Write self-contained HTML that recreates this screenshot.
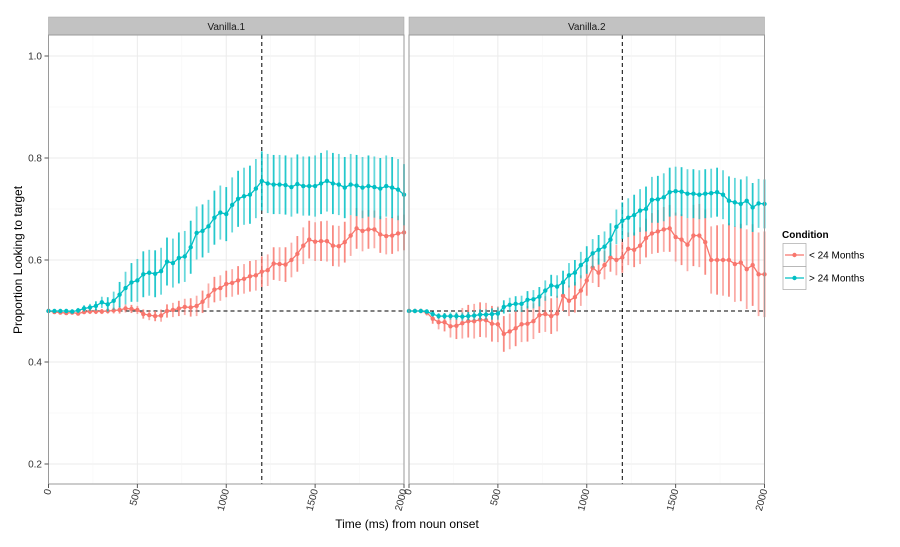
<!DOCTYPE html>
<html><head><meta charset="utf-8"><style>
body{margin:0;background:#fff;}
svg text{font-family:"Liberation Sans",sans-serif;}
</style></head><body>
<svg id="c" width="900" height="542" xmlns="http://www.w3.org/2000/svg"></svg>
<script>
const times=[];for(let i=0;i<=60;i++)times.push(i*100/3);
const yTicks=[0.2,0.4,0.6,0.8,1.0];
const xTicks=[0,500,1000,1500,2000];
const panels=["Vanilla.1","Vanilla.2"];
const teal1=[0.500,0.500,0.500,0.500,0.499,0.501,0.505,0.507,0.510,0.517,
0.513,0.520,0.532,0.545,0.556,0.560,0.572,0.575,0.573,0.578,
0.597,0.594,0.604,0.607,0.625,0.653,0.657,0.666,0.683,0.693,
0.690,0.708,0.720,0.725,0.728,0.740,0.755,0.750,0.748,0.748,
0.747,0.743,0.749,0.745,0.745,0.745,0.750,0.755,0.750,0.748,
0.742,0.748,0.746,0.742,0.745,0.743,0.740,0.745,0.742,0.738,0.728];
const red1=[0.500,0.498,0.497,0.496,0.497,0.495,0.498,0.499,0.499,0.499,
0.500,0.501,0.502,0.505,0.504,0.502,0.494,0.492,0.490,0.491,
0.500,0.502,0.505,0.508,0.507,0.510,0.518,0.530,0.542,0.545,
0.553,0.555,0.560,0.563,0.568,0.570,0.577,0.580,0.593,0.592,
0.591,0.600,0.612,0.628,0.640,0.636,0.637,0.637,0.628,0.627,
0.635,0.648,0.662,0.657,0.660,0.660,0.650,0.647,0.648,0.652,0.654];
const teal2=[0.500,0.500,0.500,0.499,0.494,0.490,0.490,0.490,0.490,0.489,
0.490,0.491,0.493,0.493,0.494,0.495,0.508,0.512,0.514,0.514,
0.522,0.523,0.528,0.540,0.550,0.548,0.556,0.570,0.575,0.590,
0.600,0.613,0.620,0.626,0.640,0.665,0.677,0.683,0.688,0.697,
0.700,0.718,0.719,0.723,0.733,0.735,0.734,0.730,0.730,0.728,
0.730,0.731,0.733,0.728,0.716,0.713,0.710,0.716,0.703,0.711,0.710];
const red2=[0.500,0.500,0.500,0.497,0.485,0.478,0.478,0.470,0.471,0.476,
0.480,0.480,0.483,0.482,0.475,0.474,0.455,0.460,0.466,0.474,
0.475,0.480,0.492,0.494,0.490,0.495,0.530,0.520,0.527,0.540,
0.560,0.585,0.575,0.590,0.605,0.600,0.605,0.622,0.620,0.628,
0.643,0.652,0.656,0.660,0.662,0.645,0.640,0.630,0.648,0.648,
0.635,0.600,0.600,0.600,0.600,0.592,0.595,0.582,0.590,0.572,0.572];
const seT1=[0.003,0.003,0.003,0.004,0.004,0.005,0.006,0.007,0.009,0.011,
0.014,0.018,0.025,0.032,0.038,0.042,0.045,0.045,0.046,0.046,
0.047,0.048,0.050,0.050,0.052,0.052,0.052,0.052,0.053,0.053,
0.053,0.054,0.055,0.056,0.057,0.058,0.058,0.058,0.058,0.058,
0.058,0.058,0.058,0.058,0.058,0.060,0.060,0.060,0.060,0.060,
0.060,0.060,0.060,0.060,0.060,0.060,0.060,0.060,0.060,0.060,0.060];
const seR1=[0.003,0.003,0.003,0.003,0.004,0.004,0.004,0.005,0.005,0.005,
0.005,0.006,0.007,0.008,0.008,0.008,0.009,0.010,0.010,0.012,
0.013,0.014,0.015,0.016,0.018,0.020,0.022,0.024,0.025,0.025,
0.026,0.027,0.028,0.029,0.030,0.030,0.030,0.031,0.032,0.033,
0.034,0.034,0.035,0.036,0.037,0.038,0.039,0.040,0.040,0.040,
0.040,0.040,0.040,0.040,0.038,0.037,0.036,0.036,0.036,0.035,0.035];
const seT2=[0.003,0.003,0.003,0.004,0.005,0.006,0.006,0.007,0.007,0.008,
0.008,0.009,0.010,0.010,0.011,0.012,0.013,0.014,0.015,0.016,
0.017,0.018,0.019,0.020,0.021,0.022,0.023,0.024,0.025,0.026,
0.027,0.028,0.029,0.030,0.032,0.034,0.036,0.038,0.040,0.042,
0.044,0.045,0.046,0.047,0.048,0.048,0.048,0.048,0.048,0.048,
0.048,0.048,0.048,0.048,0.048,0.048,0.048,0.048,0.048,0.048,0.048];
const seR2=[0.003,0.003,0.004,0.006,0.010,0.014,0.018,0.022,0.026,0.030,
0.032,0.034,0.034,0.034,0.035,0.035,0.035,0.035,0.035,0.035,
0.035,0.035,0.035,0.035,0.035,0.035,0.030,0.030,0.030,0.030,
0.030,0.030,0.028,0.028,0.028,0.030,0.030,0.032,0.034,0.036,
0.038,0.040,0.042,0.044,0.046,0.048,0.050,0.052,0.060,0.062,
0.064,0.066,0.068,0.070,0.072,0.074,0.076,0.078,0.080,0.082,0.084];
const series=[[{v:red1,se:seR1,c:"#F8766D",n:"lt24"},{v:teal1,se:seT1,c:"#00BFC4",n:"gt24"}],
[{v:red2,se:seR2,c:"#F8766D",n:"lt24"},{v:teal2,se:seT2,c:"#00BFC4",n:"gt24"}]];

const svg=document.getElementById('c');const NS="http://www.w3.org/2000/svg";
function el(t,a,p){const e=document.createElementNS(NS,t);for(const k in a)e.setAttribute(k,a[k]);(p||svg).appendChild(e);return e;}
const pTop=35,pBot=484,pl=[48.5,409],pw=355.5;
const y=v=>56+(1-v)*510;
panels.forEach((name,pi)=>{
 const x0=pl[pi];const x=t=>x0+t/2000*pw;
 const g=el('g',{});
 
 
 for(let k=2;k<=10;k++){const v=k/10;el('line',{x1:x0,x2:x0+pw,y1:y(v),y2:y(v),stroke:k%2?'#f5f5f5':'#ebebeb','stroke-width':k%2?0.5:1},g);}
 for(let t=0;t<=2000;t+=250){el('line',{x1:x(t),x2:x(t),y1:pTop,y2:pBot,stroke:t%500?'#f5f5f5':'#ebebeb','stroke-width':t%500?0.5:1},g);}
 const s=el('rect',{x:x0,y:17,width:pw,height:18,fill:'#c2c2c2',stroke:'#a0a0a0','stroke-width':0.5},g);
 
 
 const st=el('text',{x:x0+pw/2,y:30,'text-anchor':'middle','font-size':10,fill:'#1a1a1a'},g);st.textContent=name;
 el('line',{x1:x0,x2:x0+pw,y1:y(0.5),y2:y(0.5),stroke:'#000','stroke-dasharray':'4,3','stroke-width':1},g);
 el('line',{x1:x(1200),x2:x(1200),y1:pTop,y2:pBot,stroke:'#000','stroke-dasharray':'4,3','stroke-width':1},g);
 series[pi].forEach(sr=>{
  const sg=el('g',{},g);
  
  
  sr.v.forEach((v,i)=>{el('line',{x1:x(times[i]),x2:x(times[i]),y1:y(v-sr.se[i]),y2:y(v+sr.se[i]),stroke:sr.c,'stroke-width':1.8,opacity:i%2?0.6:0.85},sg);});
  el('polyline',{points:sr.v.map((v,i)=>x(times[i])+','+y(v)).join(' '),fill:'none',stroke:sr.c,'stroke-width':1.3},sg);
  sr.v.forEach((v,i)=>{el('circle',{cx:x(times[i]),cy:y(v),r:2.2,fill:sr.c},sg);});
 });
 el('rect',{x:x0,y:pTop,width:pw,height:pBot-pTop,fill:'none',stroke:'#9a9a9a','stroke-width':1},g);
 xTicks.forEach(t=>{el('line',{x1:x(t),x2:x(t),y1:pBot,y2:pBot+4,stroke:'#555'},g);
  const tx=el('text',{'font-size':10,fill:'#333','text-anchor':'end',transform:`translate(${x(t)+3},${pBot+6}) rotate(-75)`},g);tx.textContent=t;
  
  });
});
yTicks.forEach(v=>{el('line',{x1:44.5,x2:48.5,y1:y(v),y2:y(v),stroke:'#555'});
 const t=el('text',{x:42,y:y(v)+3.5,'text-anchor':'end','font-size':10,fill:'#333'});t.textContent=v.toFixed(1);
 
 });
const yt=el('text',{transform:'translate(22,260) rotate(-90)','text-anchor':'middle','font-size':12,fill:'#000'});yt.textContent='Proportion Looking to target';


const xt=el('text',{x:407,y:528,'text-anchor':'middle','font-size':12,fill:'#000'});xt.textContent='Time (ms) from noun onset';


const lg=el('g',{});


const lt=el('text',{x:782,y:238,'font-size':10,'font-weight':'bold',fill:'#000'},lg);lt.textContent='Condition';
[["< 24 Months","#F8766D"],["> 24 Months","#00BFC4"]].forEach((e,i)=>{
 const eg=el('g',{},lg);
 
 
 const yy=255+i*23;
 el('rect',{x:783,y:yy-11.5,width:23,height:23,fill:'#fff',stroke:'#a8a8a8','stroke-width':0.7},eg);
 el('line',{x1:785,x2:804,y1:yy,y2:yy,stroke:e[1],'stroke-width':1.3},eg);
 el('circle',{cx:794.5,cy:yy,r:2.2,fill:e[1]},eg);
 const t=el('text',{x:809,y:yy+3.5,'font-size':10,fill:'#000'},eg);t.textContent=e[0];
});
</script>
</body></html>
